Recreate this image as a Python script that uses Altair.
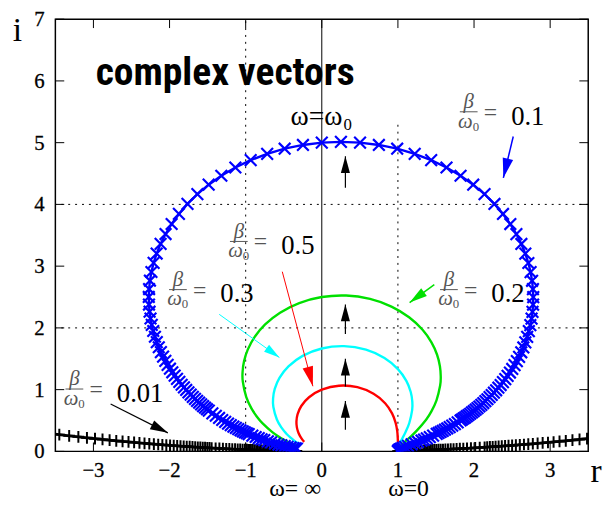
import math
import altair as alt
import pandas as pd

# ---------------- curve data (complex plane r / i) ----------------
# beta/omega0 = 0.1 (blue, x markers)
blue_x = [1.0000, 1.0025, 1.0097, 1.0220, 1.0399, 1.0636, 1.0941, 1.1324, 1.1798, 1.2255, 1.2651, 1.3100, 1.3433, 1.3796, 1.4191, 1.4623, 1.5094,
          1.5347, 1.5611, 1.5887, 1.6177, 1.6481, 1.6799, 1.7133, 1.7482, 1.7849, 1.8234,
          1.8433, 1.8637, 1.8846, 1.9060, 1.9279, 1.9503, 1.9733, 1.9967, 2.0208, 2.0453,
          2.0704, 2.0960, 2.1222, 2.1489, 2.1761, 2.2039, 2.2321, 2.2609, 2.2900, 2.3196,
          2.3495, 2.3797, 2.4102, 2.4408, 2.4715, 2.5020, 2.5324, 2.5624, 2.5917, 2.6203,
          2.6477, 2.6737, 2.6980, 2.7201, 2.7394, 2.7556, 2.7678, 2.7755, 2.7778, 2.7737,
          2.7624, 2.7428, 2.7136, 2.6737, 2.6217, 2.5564, 2.4765, 2.3807, 2.2681, 2.1379,
          1.9894, 1.8228, 1.6383, 1.4370, 1.2202, 0.9904, 0.7501, 0.5025, 0.2513, 0.0000,
          -0.2475, -0.4878, -0.7175, -0.9342, -1.1354, -1.3197, -1.4863, -1.6345, -1.7646, -1.8771,
          -1.9726, -2.0524, -2.1176, -2.1694, -2.2092, -2.2382, -2.2577, -2.2688, -2.2727, -2.2703,
          -2.2624, -2.2500, -2.2337, -2.2142, -2.1920, -2.1675, -2.1413, -2.1137, -2.0849, -2.0554,
          -2.0252, -1.9947, -1.9639, -1.9330, -1.9022, -1.8715, -1.8410, -1.8108, -1.7810, -1.7516,
          -1.7226, -1.6941, -1.6661, -1.6385, -1.6115, -1.5851, -1.5591, -1.5337, -1.5089, -1.4845,
          -1.4375, -1.3924, -1.3494, -1.3083, -1.2691, -1.2316, -1.1958, -1.1615, -1.1288, -1.0975,
          -1.0676, -1.0389, -1.0115, -0.9852, -0.9600, -0.9126, -0.8689, -0.8285, -0.7911, -0.7564,
          -0.7088, -0.6660, -0.6151, -0.5704, -0.5307, -0.4871, -0.4491, -0.4094, -0.3752, -0.3500, -0.3275]
blue_y = [0.0000, 0.0100, 0.0204, 0.0314, 0.0433, 0.0567, 0.0721, 0.0903, 0.1124, 0.1337, 0.1526, 0.1747, 0.1915, 0.2103, 0.2316, 0.2556, 0.2830,
          0.2982, 0.3145, 0.3319, 0.3507, 0.3710, 0.3929, 0.4166, 0.4423, 0.4702, 0.5005,
          0.5167, 0.5337, 0.5514, 0.5699, 0.5893, 0.6096, 0.6309, 0.6532, 0.6766, 0.7012,
          0.7271, 0.7542, 0.7828, 0.8129, 0.8446, 0.8779, 0.9132, 0.9503, 0.9895, 1.0309,
          1.0747, 1.1210, 1.1700, 1.2219, 1.2768, 1.3351, 1.3968, 1.4622, 1.5316, 1.6052,
          1.6833, 1.7661, 1.8538, 1.9469, 2.0454, 2.1497, 2.2600, 2.3763, 2.4989, 2.6277,
          2.7628, 2.9039, 3.0508, 3.2028, 3.3594, 3.5195, 3.6820, 3.8451, 4.0072, 4.1661,
          4.3192, 4.4640, 4.5975, 4.7169, 4.8192, 4.9020, 4.9627, 5.0000, 5.0125, 5.0000,
          4.9628, 4.9020, 4.8192, 4.7170, 4.5977, 4.4642, 4.3195, 4.1664, 4.0077, 3.8457,
          3.6826, 3.5203, 3.3604, 3.2040, 3.0521, 2.9054, 2.7644, 2.6295, 2.5008, 2.3784,
          2.2622, 2.1521, 2.0480, 1.9496, 1.8567, 1.7691, 1.6864, 1.6085, 1.5351, 1.4658,
          1.4006, 1.3390, 1.2809, 1.2261, 1.1744, 1.1256, 1.0794, 1.0358, 0.9945, 0.9554,
          0.9184, 0.8834, 0.8501, 0.8186, 0.7887, 0.7602, 0.7332, 0.7075, 0.6831, 0.6598,
          0.6165, 0.5771, 0.5411, 0.5083, 0.4782, 0.4506, 0.4252, 0.4018, 0.3802, 0.3603,
          0.3418, 0.3246, 0.3087, 0.2938, 0.2800, 0.2550, 0.2331, 0.2138, 0.1967, 0.1815,
          0.1618, 0.1449, 0.1262, 0.1107, 0.0978, 0.0846, 0.0737, 0.0632, 0.0546, 0.0487, 0.0437]

# beta/omega0 = 0.2 (green)
green_x = [1.0000, 1.0085, 1.0345, 1.0801, 1.1488, 1.2448, 1.3699, 1.4398, 1.5066, 1.5547, 1.5625, 1.5517, 1.5144,
           1.4407, 1.3209, 1.1467, 0.9153, 0.6335, 0.3195, 0.0000, -0.2966, -0.5484, -0.7442, -0.8835, -0.9728,
           -1.0218, -1.0406, -1.0377, -0.9931, -0.9243, -0.8496, -0.7772, -0.6502, -0.5487, -0.4685, -0.4046, -0.3532, -0.3112]
green_y = [0.0000, 0.0407, 0.0862, 0.1424, 0.2188, 0.3320, 0.5137, 0.6482, 0.8272, 1.0661, 1.2128, 1.3793, 1.5647,
           1.7652, 1.9726, 2.1726, 2.3456, 2.4690, 2.5237, 2.5000, 2.4024, 2.2471, 2.0562, 1.8511, 1.6480,
           1.4575, 1.2849, 1.1321, 0.8828, 0.6966, 0.5578, 0.4534, 0.3121, 0.2251, 0.1685, 0.1301, 0.1028, 0.0830]

# beta/omega0 = 0.3 (cyan)
cyan_x = [1.0000, 1.0064, 1.0256, 1.0575, 1.1006, 1.1494, 1.1869, 1.1892, 1.1684, 1.1107, 1.0000, 0.8232, 0.5798, 0.2916,
          0.0000, -0.2516, -0.4378, -0.5559, -0.6180, -0.6400, -0.6362, -0.5900, -0.5269, -0.4649, -0.4098, -0.3622, -0.3218, -0.2874]
cyan_y = [0.0000, 0.0610, 0.1282, 0.2092, 0.3145, 0.4598, 0.6677, 0.8031, 0.9622, 1.1424, 1.3333, 1.5129, 1.6478, 1.7045,
          1.6667, 1.5464, 1.3759, 1.1894, 1.0112, 0.8533, 0.7192, 0.5162, 0.3793, 0.2861, 0.2211, 0.1746, 0.1405, 0.1149]

# beta/omega0 = 0.5 (red)
red_x = [1.0000, 1.0000, 0.9980, 0.9910, 0.9700, 0.9230, 0.8320, 0.6800, 0.4680, 0.2246, 0.0000,
         -0.1675, -0.2693, -0.3185, -0.3331, -0.3279, -0.3124, -0.2925, -0.2713, -0.2505, -0.2308]
red_y = [0.0000, 0.1010, 0.2080, 0.3270, 0.4620, 0.6150, 0.7800, 0.9330, 1.0400, 1.0637, 1.0000,
         0.8771, 0.7346, 0.6002, 0.4858, 0.3934, 0.3204, 0.2631, 0.2180, 0.1823, 0.1538]

# beta/omega0 = 0.01 (black, + markers) - right branch and left branch
black_r_x = [1.0000, 1.0049, 1.0200, 1.0417, 1.0667, 1.0989, 1.1307, 1.1586, 1.1904, 1.2141, 1.2399, 1.2682, 1.2992, 1.3331,
             1.3513, 1.3703, 1.3903, 1.4113, 1.4333, 1.4565, 1.4808, 1.5065, 1.5335, 1.5619, 1.5920, 1.6238, 1.6574, 1.6930,
             1.7307, 1.7708, 1.8135, 1.8589, 1.9074, 1.9593, 2.0149, 2.0746,
             2.1388, 2.1728, 2.2081, 2.2448, 2.2830, 2.3228, 2.3644, 2.4077, 2.4529, 2.5002, 2.5496, 2.6014, 2.6556,
             2.7125, 2.7723, 2.8352, 2.9014, 2.9712, 3.0449, 3.1228, 3.2053, 3.2927, 3.3857, 3.4846, 3.5901]
black_r_y = [0.0000, 0.0014, 0.0029, 0.0043, 0.0057, 0.0072, 0.0087, 0.0099, 0.0113, 0.0124, 0.0135, 0.0148, 0.0162, 0.0178,
             0.0186, 0.0195, 0.0205, 0.0215, 0.0226, 0.0238, 0.0250, 0.0263, 0.0278, 0.0293, 0.0309, 0.0327, 0.0346, 0.0367,
             0.0390, 0.0414, 0.0441, 0.0470, 0.0502, 0.0538, 0.0577, 0.0620,
             0.0669, 0.0695, 0.0722, 0.0752, 0.0783, 0.0816, 0.0851, 0.0888, 0.0928, 0.0970, 0.1016, 0.1064, 0.1116,
             0.1172, 0.1232, 0.1297, 0.1367, 0.1442, 0.1524, 0.1613, 0.1710, 0.1816, 0.1932, 0.2059, 0.2199]
black_l_x = [-3.5875, -3.4481, -3.3186, -3.1979, -3.0851, -2.9795, -2.8806, -2.7875, -2.6999, -2.6173,
             -2.5392, -2.4654, -2.3955, -2.3291, -2.2660, -2.2060, -2.1489, -2.0944, -2.0424, -1.9927,
             -1.9452, -1.8997, -1.8562, -1.8144, -1.7743, -1.7358, -1.6987, -1.6631, -1.6288, -1.5957,
             -1.5639, -1.5332, -1.5035, -1.4749, -1.4472,
             -1.3946, -1.3453, -1.2990, -1.2555, -1.2145, -1.1758, -1.1393, -1.1047, -1.0719, -1.0408,
             -1.0112, -0.9831, -0.9563, -0.9308, -0.9064, -0.8831, -0.8608, -0.8395, -0.8191, -0.7995,
             -0.7716, -0.7454, -0.7206, -0.6972, -0.6680, -0.6408, -0.6093, -0.5803, -0.5536, -0.5289,
             -0.5016, -0.4766, -0.4499, -0.4256, -0.4004, -0.3776, -0.3543, -0.3333]
black_l_y = [0.2928, 0.2716, 0.2525, 0.2354, 0.2200, 0.2061, 0.1934, 0.1818, 0.1713, 0.1616,
             0.1527, 0.1445, 0.1370, 0.1301, 0.1236, 0.1176, 0.1120, 0.1069, 0.1020, 0.0975,
             0.0933, 0.0893, 0.0856, 0.0821, 0.0789, 0.0758, 0.0729, 0.0701, 0.0675, 0.0650,
             0.0627, 0.0605, 0.0584, 0.0564, 0.0545,
             0.0510, 0.0478, 0.0449, 0.0423, 0.0399, 0.0376, 0.0356, 0.0337, 0.0320, 0.0304,
             0.0289, 0.0275, 0.0262, 0.0250, 0.0238, 0.0228, 0.0218, 0.0209, 0.0200, 0.0192,
             0.0181, 0.0170, 0.0161, 0.0152, 0.0141, 0.0131, 0.0121, 0.0111, 0.0103, 0.0095,
             0.0087, 0.0080, 0.0073, 0.0066, 0.0060, 0.0054, 0.0049, 0.0044]

# ---------------- axes, reference lines ----------------
x_ticks = [-3, -2, -1, 0, 1, 2, 3]
x_tick_labels = ["−3", "−2", "−1", "0", "1", "2", "3"]
y_ticks = [0, 1, 2, 3, 4, 5, 6, 7]
y_tick_labels = ["0", "1", "2", "3", "4", "5", "6", "7"]
dot_vx = [-1, 1]
dot_vtop = [7, 5.37]
dot_hy = [2, 4]
solid_vx = [0]

# ---------------- annotations ----------------
frac_vals = ["0.1", "0.2", "0.3", "0.5", "0.01"]
frac_x = [1.93, 1.67, -1.89, -1.09, -3.25]
frac_y = [5.50, 2.62, 2.62, 3.40, 1.01]

arrow_x0 = [2.515, 1.478, -1.348, -0.519, -2.774, 0.31, 0.31, 0.31, 0.31]
arrow_y0 = [5.10, 2.70, 2.22, 2.91, 0.767, 4.27, 1.90, 1.05, 0.35]
arrow_x1 = [2.385, 1.154, -0.557, -0.117, -2.022, 0.31, 0.31, 0.31, 0.31]
arrow_y1 = [4.43, 2.41, 1.52, 1.055, 0.30, 4.78, 2.38, 1.50, 0.815]
arrow_col = ["#0000ff", "#00e000", "#00ffff", "#ff0000", "#000000", "#000000", "#000000", "#000000", "#000000"]
arrow_w = [1.5, 1.5, 1.0, 1.0, 1.2, 1.2, 1.2, 1.2, 1.2]
arrow_len = [20, 18, 16, 20, 18, 17, 17, 17, 17]

title_text = ["complex vectors"]
title_x = [-2.97]
title_y = [5.93]

axis_letters = ["i", "r"]
axis_letter_x = [-4.06, 3.53]
axis_letter_y = [6.65, -0.50]

omega_top_x = [0.272]
omega_top_y = [5.29]

bottom_text = ["ω= ∞", "ω=0"]
bottom_x = [-0.35, 1.14]
bottom_y = [-0.72, -0.72]

# ---------------- chart ----------------
W, H = 540, 438
X_DOMAIN = [-3.5, 3.5]
Y_DOMAIN = [0, 7]
SERIF = "Liberation Serif"
PXX = W / (X_DOMAIN[1] - X_DOMAIN[0])
PXY = H / (Y_DOMAIN[1] - Y_DOMAIN[0])

xs = alt.Scale(domain=X_DOMAIN, nice=False, zero=False)
ys = alt.Scale(domain=Y_DOMAIN, nice=False, zero=False)


def ex(f="x"):
    return alt.X(f"{f}:Q", scale=xs, axis=None, title=None)


def ey(f="y"):
    return alt.Y(f"{f}:Q", scale=ys, axis=None, title=None)


def curve_df(cx, cy):
    return pd.DataFrame({"x": cx, "y": cy, "i": list(range(len(cx)))})


layers = []

# tick marks (inward) on all four sides
tx = pd.DataFrame({"x": x_ticks, "t": x_tick_labels, "y": [Y_DOMAIN[0]] * len(x_ticks)})
ty = pd.DataFrame({"y": y_ticks, "t": y_tick_labels, "x": [X_DOMAIN[0]] * len(y_ticks)})
layers.append(alt.Chart(tx).mark_rule(color="black", strokeWidth=1).encode(
    x=ex(), y=alt.value(H), y2=alt.value(H - 9)))
layers.append(alt.Chart(tx).mark_rule(color="black", strokeWidth=1).encode(
    x=ex(), y=alt.value(0), y2=alt.value(9)))
layers.append(alt.Chart(ty).mark_rule(color="black", strokeWidth=1).encode(
    y=ey(), x=alt.value(0), x2=alt.value(9)))
layers.append(alt.Chart(ty).mark_rule(color="black", strokeWidth=1).encode(
    y=ey(), x=alt.value(W), x2=alt.value(W - 9)))
# tick labels
layers.append(alt.Chart(tx).mark_text(font=SERIF, fontSize=21, color="black", stroke="black", strokeWidth=0.3,
                                      align="center", baseline="alphabetic", dy=26).encode(
    x=ex(), y=ey(), text="t:N"))
layers.append(alt.Chart(ty).mark_text(font=SERIF, fontSize=21, color="black", stroke="black", strokeWidth=0.3,
                                      align="right", baseline="middle", dx=-11, dy=1).encode(
    x=ex(), y=ey(), text="t:N"))

# reference lines
layers.append(alt.Chart(pd.DataFrame({"x": dot_vx, "y": [0, 0], "y2": dot_vtop})).mark_rule(
    color="black", strokeWidth=1, strokeDash=[2, 5]).encode(x=ex(), y=ey(), y2="y2:Q"))
layers.append(alt.Chart(pd.DataFrame({"y": dot_hy})).mark_rule(
    color="black", strokeWidth=1, strokeDash=[2, 5]).encode(y=ey()))
layers.append(alt.Chart(pd.DataFrame({"x": solid_vx})).mark_rule(
    color="black", strokeWidth=1).encode(x=ex()))

XPATH = "M-1,-1L1,1M-1,1L1,-1"
PPATH = "M-1,0L1,0M0,-1L0,1"

# black curve (two branches)
bl = pd.concat([
    curve_df(black_r_x, black_r_y).assign(seg="R"),
    curve_df(black_l_x, black_l_y).assign(seg="L"),
], ignore_index=True)
layers.append(alt.Chart(bl).mark_line(color="black", strokeWidth=2.8, clip=True).encode(
    x=ex(), y=ey(), detail="seg:N", order="i:Q"))
layers.append(alt.Chart(bl).mark_point(shape=PPATH, size=140, filled=False, color="black",
                                       strokeWidth=2, opacity=1, clip=True).encode(x=ex(), y=ey()))

# green / cyan / red
for cx, cy, col in [(green_x, green_y, "#00e000"), (cyan_x, cyan_y, "#00ffff"), (red_x, red_y, "#ff0000")]:
    layers.append(alt.Chart(curve_df(cx, cy)).mark_line(color=col, strokeWidth=2.4, interpolate="cardinal",
                                                        clip=True).encode(x=ex(), y=ey(), order="i:Q"))

# blue curve with x markers
bd = curve_df(blue_x, blue_y)
layers.append(alt.Chart(bd).mark_line(color="#0000ff", strokeWidth=2.4, clip=True).encode(
    x=ex(), y=ey(), order="i:Q"))
layers.append(alt.Chart(bd).mark_point(shape=XPATH, size=140, filled=False, color="#0000ff",
                                       strokeWidth=2.2, opacity=1, clip=True).encode(x=ex(), y=ey()))

# arrows
ang = [math.degrees(math.atan2((x1 - x0) * PXX, (y1 - y0) * PXY)) % 360
       for x0, y0, x1, y1 in zip(arrow_x0, arrow_y0, arrow_x1, arrow_y1)]
ad = pd.DataFrame({"x": arrow_x0, "y": arrow_y0, "x2": arrow_x1, "y2": arrow_y1, "c": arrow_col,
                   "w": arrow_w, "ang": ang, "hs": [4 * L * L for L in arrow_len]})
layers.append(alt.Chart(ad).mark_rule().encode(
    x=ex(), y=ey(), x2="x2:Q", y2="y2:Q", color=alt.Color("c:N", scale=None),
    strokeWidth=alt.StrokeWidth("w:Q", scale=None)))
layers.append(alt.Chart(ad).mark_point(shape="M0,0L0.27,1L-0.27,1Z", filled=True, opacity=1,
                                       strokeWidth=0).encode(
    x=ex("x2"), y=ey("y2"), color=alt.Color("c:N", scale=None),
    angle=alt.Angle("ang:Q", scale=None), size=alt.Size("hs:Q", scale=None)))

# texts
td = pd.DataFrame({"x": title_x, "y": title_y, "t": title_text})
layers.append(alt.Chart(td).mark_text(font="Liberation Sans Narrow, Roboto Condensed, Liberation Sans",
                                      fontSize=40, fontWeight="bold", align="left", baseline="alphabetic",
                                      color="black").encode(x=ex(), y=ey(), text="t:N"))

ld = pd.DataFrame({"x": axis_letter_x, "y": axis_letter_y, "t": axis_letters})
layers.append(alt.Chart(ld).mark_text(font=SERIF, fontSize=34, align="left", baseline="alphabetic",
                                      color="black").encode(x=ex(), y=ey(), text="t:N"))

od = pd.DataFrame({"x": omega_top_x, "y": omega_top_y})
layers.append(alt.Chart(od).mark_text(text="ω=ω", font=SERIF, fontSize=28, align="right",
                                      baseline="alphabetic", color="black").encode(x=ex(), y=ey()))
layers.append(alt.Chart(od).mark_text(text="0", font=SERIF, fontSize=17, align="left", dx=1, dy=5,
                                      baseline="alphabetic", color="black").encode(x=ex(), y=ey()))

bt = pd.DataFrame({"x": bottom_x, "y": bottom_y, "t": bottom_text})
layers.append(alt.Chart(bt).mark_text(font=SERIF, fontSize=24, align="center", baseline="alphabetic",
                                      color="black").encode(x=ex(), y=ey(), text="t:N"))

fd = pd.DataFrame({"x": frac_x, "y": frac_y, "v": frac_vals})
GRAY = "#555555"
layers.append(alt.Chart(fd).mark_text(text="β", font=SERIF, fontStyle="italic", fontSize=21, color=GRAY,
                                      align="center", baseline="alphabetic", dy=-4).encode(x=ex(), y=ey()))
layers.append(alt.Chart(fd).mark_point(shape="M-1,0L1,0", size=324, filled=False, color=GRAY,
                                       strokeWidth=1, opacity=1).encode(x=ex(), y=ey()))
layers.append(alt.Chart(fd).mark_text(text="ω", font=SERIF, fontStyle="italic", fontSize=21, color=GRAY,
                                      align="right", baseline="alphabetic", dx=4, dy=16).encode(x=ex(), y=ey()))
layers.append(alt.Chart(fd).mark_text(text="0", font=SERIF, fontSize=13, color=GRAY,
                                      align="left", baseline="alphabetic", dx=4, dy=19).encode(x=ex(), y=ey()))
layers.append(alt.Chart(fd).mark_text(text="=", font=SERIF, fontSize=24, color=GRAY,
                                      align="center", baseline="alphabetic", dx=22, dy=8).encode(x=ex(), y=ey()))
layers.append(alt.Chart(fd).mark_text(font=SERIF, fontSize=27, color="black",
                                      align="left", baseline="alphabetic", dx=43, dy=13).encode(
    x=ex(), y=ey(), text="v:N"))

chart = alt.layer(*layers).properties(
    width=W, height=H,
    autosize=alt.AutoSizeParams(type="none"),
    padding={"left": 48, "top": 8, "right": 17, "bottom": 50},
).configure_view(stroke="black", strokeWidth=1.5)

chart.save("out.html", embed_options={"renderer": "svg", "actions": False})
